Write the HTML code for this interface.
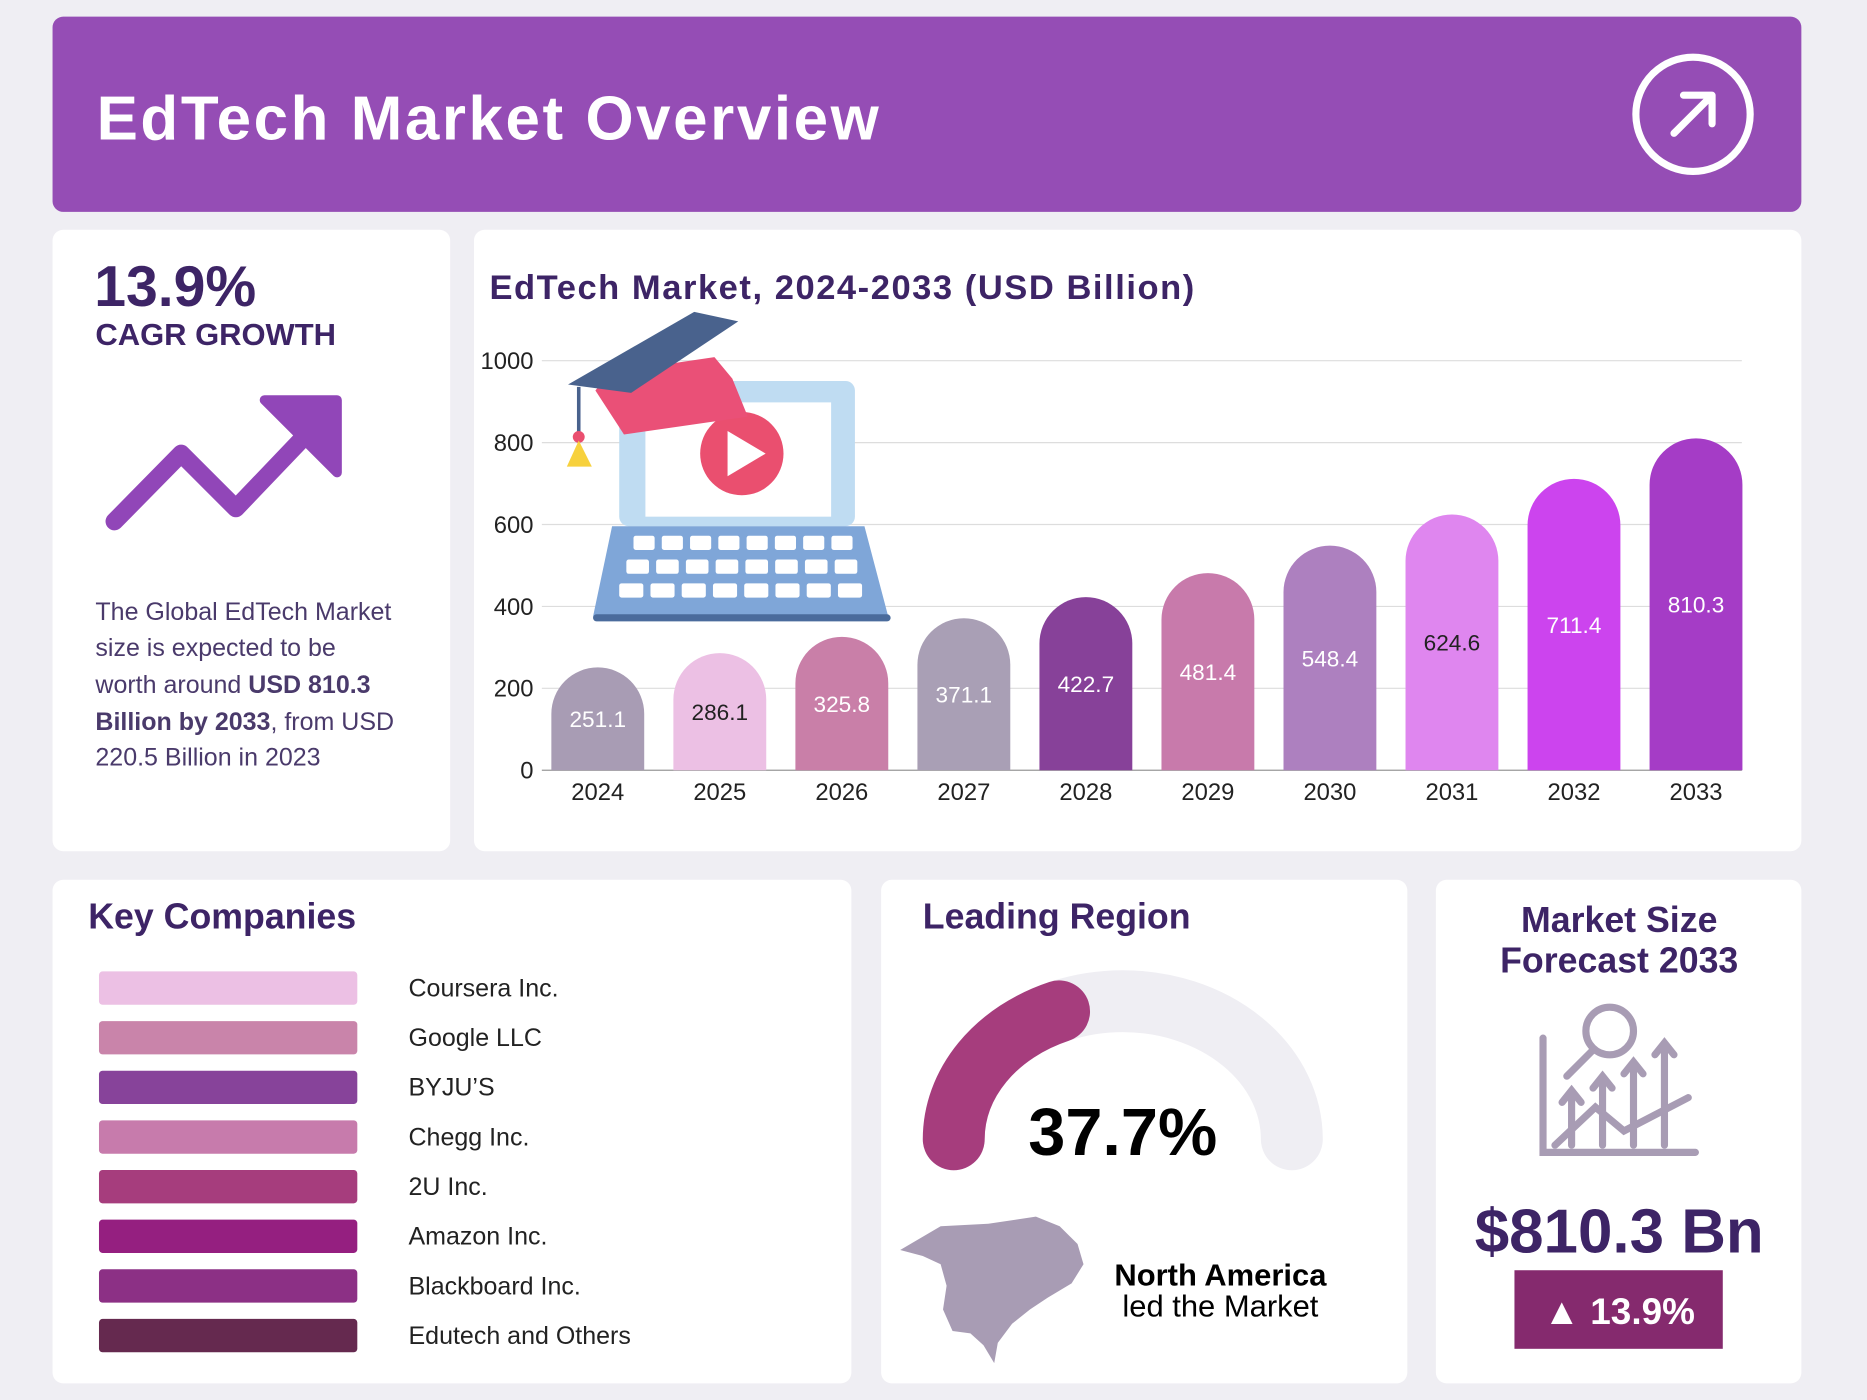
<!DOCTYPE html>
<html><head><meta charset="utf-8"><style>
html,body{margin:0;padding:0;background:#efeef3;}
svg{display:block;font-family:"Liberation Sans",sans-serif;}
</style></head><body>
<svg id="root" width="1867" height="1400" viewBox="0 0 1568 1176">
<rect x="0" y="0" width="1568" height="1176" fill="#efeef3"/>
<g>
<rect x="44" y="14" width="1469" height="164" rx="9" fill="#954db5"/>
<text x="81" y="117" font-size="52" font-weight="bold" fill="#fff" textLength="657">EdTech Market Overview</text>
<g>
<circle cx="1422" cy="96" r="48" fill="none" stroke="#fff" stroke-width="6"/>
<path d="M1406 112 L1438 80 M1414 80 L1438 80 L1438 104" fill="none" stroke="#fff" stroke-width="6" stroke-linecap="round" stroke-linejoin="round"/>
</g></g>

<g>
<rect x="44" y="193" width="334" height="522" rx="9" fill="#fff"/>
<text x="79" y="257" font-size="48" font-weight="bold" fill="#3d2466">13.9%</text>
<text x="80" y="290" font-size="26" font-weight="bold" fill="#3d2466">CAGR GROWTH</text>
<g>
<path d="M96 438 L152 381 L198 427 L262 360" fill="none" stroke="#9146b8" stroke-width="15" stroke-linecap="round" stroke-linejoin="round"/>
<path d="M222 336 L283 336 L283 397 Z" fill="#9146b8" stroke="#9146b8" stroke-width="8" stroke-linejoin="round"/>
</g>
<g font-size="21" fill="#4a3a6b">
<text x="80" y="521">The Global EdTech Market</text>
<text x="80" y="551">size is expected to be</text>
<text x="80" y="582">worth around <tspan font-weight="bold">USD 810.3</tspan></text>
<text x="80" y="613"><tspan font-weight="bold">Billion by 2033</tspan>, from USD</text>
<text x="80" y="643">220.5 Billion in 2023</text>
</g></g>

<g>
<rect x="398" y="193" width="1115" height="522" rx="9" fill="#fff"/>
<text x="411" y="251" font-size="29" font-weight="bold" fill="#3d2466" textLength="592">EdTech Market, 2024-2033 (USD Billion)</text>
<g id="grid"></g>
<g>
<rect x="520" y="320" width="198" height="122" rx="8" fill="#bfdcf2"/>
<rect x="542" y="338" width="156" height="96" fill="#fff"/>
<circle cx="623" cy="381" r="35" fill="#ea4f6f"/>
<path d="M611 362 L611 400 L643 381 Z" fill="#fff"/>
<path d="M514 442 L726 442 L746 518 L498 518 Z" fill="#7fa6d8"/>
<rect x="498" y="516" width="250" height="6" rx="3" fill="#4a6b9c"/>
<g fill="#fff" id="keys"></g>
<path d="M500 328 L512 313 L600 300 L615 318 L628 350 L524 365 Z" fill="#ea5077"/>
<path d="M477 323 L583 262 L620 270 L530 330 Z" fill="#49628d"/>
<path d="M486 325 L486 368" stroke="#49628d" stroke-width="3"/>
<circle cx="486" cy="367" r="5" fill="#ea4f6f"/>
<path d="M486 370 L476 392 L497 392 Z" fill="#f7d13d"/>
</g>
<g id="bars"></g>
</g>

<g>
<rect x="44" y="739" width="671" height="423" rx="9" fill="#fff"/>
<text x="74" y="780" font-size="30" font-weight="bold" fill="#3d2466">Key Companies</text>
<g id="companies"></g>
</g>

<g>
<rect x="740" y="739" width="442" height="423" rx="9" fill="#fff"/>
<text x="775" y="780" font-size="30" font-weight="bold" fill="#3d2466">Leading Region</text>
<g id="gauge"></g>
<text x="943" y="970" font-size="56" font-weight="bold" fill="#000" text-anchor="middle">37.7%</text>
<path d="M756 1050 L790 1030 L830 1028 L870 1022 L890 1030 L905 1045 L910 1062 L900 1078 L880 1090 L865 1100 L850 1112 L838 1128 L835 1145 L826 1130 L815 1120 L800 1118 L792 1100 L795 1080 L790 1062 L775 1055 Z" fill="#a89cb4"/>
<text x="1025" y="1080" font-size="26" font-weight="bold" fill="#000" text-anchor="middle">North America</text>
<text x="1025" y="1106" font-size="26" fill="#000" text-anchor="middle">led the Market</text>
</g>

<g>
<rect x="1206" y="739" width="307" height="423" rx="9" fill="#fff"/>
<text x="1360" y="783" font-size="30" font-weight="bold" fill="#3d2466" text-anchor="middle">Market Size</text>
<text x="1360" y="817" font-size="30" font-weight="bold" fill="#3d2466" text-anchor="middle">Forecast 2033</text>
<g fill="none" stroke="#a89cb4" stroke-width="6" stroke-linecap="round">
<path d="M1296 872 L1296 968 L1424 968"/>
<circle cx="1352" cy="866" r="20"/>
<path d="M1338 882 L1316 904"/>
<path d="M1306 962 L1340 930 L1364 950 L1418 922"/>
<path d="M1320 962 L1320 920 M1346 962 L1346 908 M1372 962 L1372 896 M1398 962 L1398 880"/>
<path d="M1312 926 L1320 916 L1328 926 M1338 914 L1346 904 L1354 914 M1364 902 L1372 892 L1380 902 M1390 886 L1398 876 L1406 886"/>
</g>
<text x="1360" y="1052" font-size="52" font-weight="bold" fill="#3d2466" text-anchor="middle">$810.3 Bn</text>
<rect x="1272" y="1067" width="175" height="66" fill="#852a6e"/>
<text x="1360" y="1112" font-size="31" font-weight="bold" fill="#fff" text-anchor="middle">▲ 13.9%</text>
</g>
</svg>
<script>
const years = ["2024","2025","2026","2027","2028","2029","2030","2031","2032","2033"];
const values = [251.1,286.1,325.8,371.1,422.7,481.4,548.4,624.6,711.4,810.3];
const yTicks = [0,200,400,600,800,1000];
const barColors = ["#a89cb4","#ecc0e4","#c97fa8","#a99fb5","#874199","#c87aab","#ad80bf","#df86ef","#cc44ee","#a53cc6"];
const darkLabel = [false,true,false,false,false,false,false,true,false,false];
const companies = ["Coursera Inc.","Google LLC","BYJU’S","Chegg Inc.","2U Inc.","Amazon Inc.","Blackboard Inc.","Edutech and Others"];
const companyColors = ["#ecc0e4","#c984aa","#87439a","#c77bac","#a63d7d","#951f80","#8c3085","#65294f"];
const regionShare = 37.7;

const NS="http://www.w3.org/2000/svg";
function mk(tag,attrs,parent,txt){const e=document.createElementNS(NS,tag);for(const k in attrs)e.setAttribute(k,attrs[k]);if(txt!==undefined)e.textContent=txt;parent.appendChild(e);return e;}
const y0=647,y1=303,vmax=1000;
function yS(v){return y0-(v/vmax)*(y0-y1);}
function xS(i){return 502+i*102.5;}
const grid=document.getElementById('grid');
yTicks.forEach(t=>{
  const l=mk('line',{x1:455,x2:1463,y1:yS(t),y2:yS(t),stroke:t===0?'#999':'#ddd','stroke-width':1},grid);
  
  
  const tx=mk('text',{x:448,y:yS(t)+7,'font-size':20,fill:'#222','text-anchor':'end'},grid,String(t));
  
  
});
const keys=document.getElementById('keys');
for(let r=0;r<3;r++)for(let c=0;c<8;c++){
  const w=[190,200,210][r]/8;
  const x0=[530,524,518][r];
  mk('rect',{x:x0+c*w+2,y:450+r*20,width:w-6,height:12,rx:2},keys);
}
const bars=document.getElementById('bars');
const bw=78;
values.forEach((v,i)=>{
  const top=yS(v),h=y0-top,x=xS(i)-bw/2,r=bw/2;
  const p=mk('path',{d:`M${x} ${y0} L${x} ${top+r} A${r} ${r} 0 0 1 ${x+bw} ${top+r} L${x+bw} ${y0} Z`,fill:barColors[i]},bars);
  
  
  const t=mk('text',{x:xS(i),y:top+h/2+7,'font-size':19,fill:darkLabel[i]?'#222':'#fff','text-anchor':'middle'},bars,v.toFixed(1));
  
  
  const xl=mk('text',{x:xS(i),y:672,'font-size':20,fill:'#222','text-anchor':'middle'},bars,years[i]);
  
  
});
const comp=document.getElementById('companies');
companies.forEach((c,i)=>{
  const cy=830+i*41.7;
  const r=mk('rect',{x:83,y:cy-14,width:217,height:28,rx:3,fill:companyColors[i]},comp);
  
  
  const t=mk('text',{x:343,y:cy+7,'font-size':21,fill:'#222'},comp,c);
  
  
});
const g=document.getElementById('gauge');
const cx=943,cy=957,RX=142,RY=116;
const bg=mk('path',{d:`M${cx-RX} ${cy} A${RX} ${RY} 0 0 1 ${cx+RX} ${cy}`,fill:'none',stroke:'#efeef3','stroke-width':52,'stroke-linecap':'round'},g);


const ang=Math.PI-(regionShare/100)*Math.PI;
const ex=cx+RX*Math.cos(ang),ey=cy-RY*Math.sin(ang);
const fg=mk('path',{d:`M${cx-RX} ${cy} A${RX} ${RY} 0 0 1 ${ex} ${ey}`,fill:'none',stroke:'#a63d7d','stroke-width':52,'stroke-linecap':'round'},g);


</script>
</body></html>
